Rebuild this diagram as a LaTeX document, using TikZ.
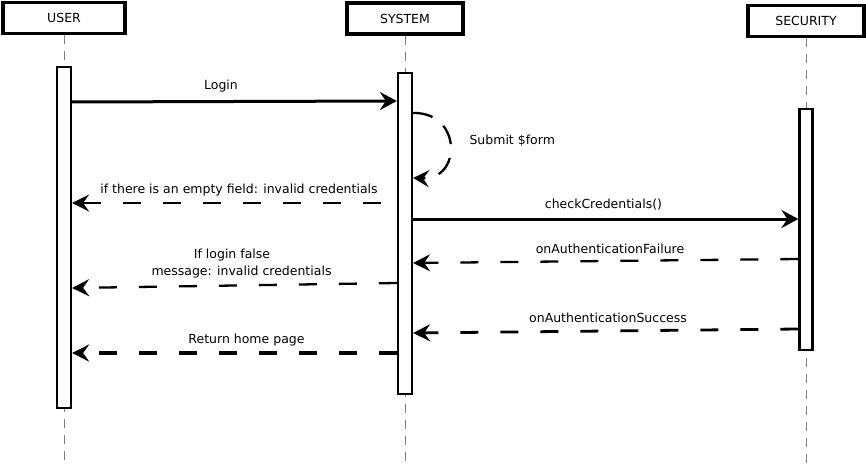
\documentclass[tikz,border=0pt]{standalone}
\usepackage{fontspec}
\setmainfont{DejaVu Sans}
\usetikzlibrary{arrows.meta}

\begin{document}
\begin{tikzpicture}[x=1pt,y=-1pt,
	every node/.style={font=\fontsize{12.5}{17}\selectfont},
	actor/.style={draw,line width=3.5pt,minimum height=31pt,inner sep=0pt},
	bar/.style={draw,fill=white,line width=2.2pt,minimum width=14pt,inner sep=0pt},
	lifeline/.style={gray,line width=1pt,dash pattern=on 9pt off 7pt},
	call/.style={line width=3pt,-{Stealth[length=17pt,width=18pt,inset=6pt]}},
	reply/.style={line width=2.3pt,dash pattern=on 18pt off 22pt,-{Stealth[length=17pt,width=17pt,inset=6pt]}},
	selfcall/.style={line width=2.3pt,dash pattern=on 20pt off 14pt,-{Stealth[length=16pt,width=17pt,inset=6pt]}}]
	\useasboundingbox (0,0) rectangle (866,465);

	\node[actor,minimum width=122pt] (user) at (64,18) {USER};
	\node[actor,minimum width=116pt] (system) at (405,18.5) {SYSTEM};
	\node[actor,minimum width=116pt] (security) at (806,21) {SECURITY};

	\coordinate (userend) at (64,465);
	\coordinate (systemend) at (405,465);
	\coordinate (securityend) at (806,465);
	\draw[lifeline] (user) -- (userend);
	\draw[lifeline] (system) -- (systemend);
	\draw[lifeline] (security) -- (securityend);

	\node[bar,minimum height=341pt] (ua) at (64,237.5) {};
	\node[bar,minimum height=321pt] (sa) at (405,233.5) {};
	\node[bar,minimum height=241pt,minimum width=13pt] (ca) at (806,229.5) {};

	\coordinate (emptyfield) at (381,203);

	\path[call] (ua.east |- 0,102) edge (sa.west |- 0,101);
	\draw[selfcall] (sa.east |- 0,113) .. controls (462,112) and (462,180) .. (sa.east |- 0,178);
	\path[reply] (emptyfield) edge (ua.east |- 0,203);
	\path[call] (sa.east |- 0,219) edge (ca.west |- 0,219);
	\path[reply] (ca.west |- 0,259) edge (sa.east |- 0,263);
	\path[reply] (sa.west |- 0,283) edge (ua.east |- 0,288);
	\path[reply,line width=2.8pt] (ca.west |- 0,329) edge (sa.east |- 0,333);
	\path[reply,line width=3.3pt] (sa.west |- 0,353) edge (ua.east |- 0,353);

	\node (login) at (221,86) {Login};
	\node[anchor=west] (submit) at (466,141) {Submit \$form};
	\node (empty) at (239,190) {if there is an empty field: invalid credentials};
	\node (check) at (603.5,205) {checkCredentials()};
	\node (failure) at (610,249) {onAuthenticationFailure};
	\node (loginfalse) at (232,255) {If login false};
	\node (message) at (241.5,272) {message: invalid credentials};
	\node (success) at (608,318) {onAuthenticationSuccess};
	\node (home) at (246.5,340) {Return home page};
\end{tikzpicture}
\end{document}
